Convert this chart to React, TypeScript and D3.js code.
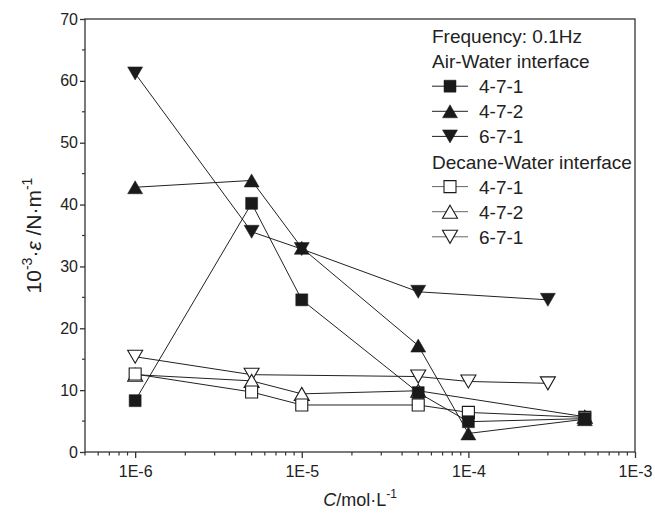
import React, { useRef, useEffect } from 'react';
import * as d3 from 'd3';

// concentrations (mol/L)
const concAir = [1e-6, 5e-6, 1e-5, 5e-5, 1e-4, 5e-4];
const conc671 = [1e-6, 5e-6, 1e-5, 5e-5, 3e-4];
const concDecane472 = [1e-6, 5e-6, 1e-5, 5e-5, 5e-4];
const concDecane671 = [1e-6, 5e-6, 5e-5, 1e-4, 3e-4];

// dilational modulus values
const air471 = [8.3, 40.2, 24.6, 9.6, 4.9, 5.4];
const air472 = [42.8, 43.9, 33.0, 17.2, 3.0, 5.3];
const air671 = [61.2, 35.6, 32.8, 25.9, 24.6];
const dec471 = [12.6, 9.7, 7.6, 7.6, 6.4, 5.6];
const dec472 = [12.5, 11.5, 9.4, 9.9, 5.7];
const dec671 = [15.4, 12.5, 12.2, 11.4, 11.1];

const xTicks = [1e-6, 1e-5, 1e-4, 1e-3];
const xTickLabels = ['1E-6', '1E-5', '1E-4', '1E-3'];
const yTicks = [0, 10, 20, 30, 40, 50, 60, 70];

const legendRows = [
  { label: 'Frequency: 0.1Hz' },
  { label: 'Air-Water interface' },
  { label: '4-7-1', shape: 'square', filled: true },
  { label: '4-7-2', shape: 'up', filled: true },
  { label: '6-7-1', shape: 'down', filled: true },
  { label: 'Decane-Water interface' },
  { label: '4-7-1', shape: 'square', filled: false },
  { label: '4-7-2', shape: 'up', filled: false },
  { label: '6-7-1', shape: 'down', filled: false },
];

const series = [
  { x: concDecane671, y: dec671, shape: 'down', filled: false },
  { x: concDecane472, y: dec472, shape: 'up', filled: false },
  { x: concAir, y: dec471, shape: 'square', filled: false },
  { x: concAir, y: air471, shape: 'square', filled: true },
  { x: concAir, y: air472, shape: 'up', filled: true },
  { x: conc671, y: air671, shape: 'down', filled: true },
];

const W = 655, H = 518;
const margin = { left: 85, right: 20, top: 19, bottom: 66 };
const font = 'Liberation Sans, Arial, sans-serif';

function markerPath(shape: string, cx: number, cy: number) {
  if (shape === 'square') {
    const s = 6;
    return `M${cx - s},${cy - s}H${cx + s}V${cy + s}H${cx - s}Z`;
  }
  const hw = 7.5, hh = 6.5;
  if (shape === 'up') return `M${cx},${cy - hh}L${cx + hw},${cy + hh}L${cx - hw},${cy + hh}Z`;
  return `M${cx - hw},${cy - hh}L${cx + hw},${cy - hh}L${cx},${cy + hh}Z`;
}

export default function App() {
  const svgRef = useRef<SVGSVGElement>(null);

  useEffect(() => {
    const svg = d3.select(svgRef.current);
    svg.selectAll('*').remove();

    const x = d3.scaleLog().domain([5e-7, 1e-3]).range([margin.left, W - margin.right]);
    const y = d3.scaleLinear().domain([0, 70]).range([H - margin.bottom, margin.top]);
    const x0 = margin.left, x1 = W - margin.right, y0 = H - margin.bottom, y1 = margin.top;

    // series lines + markers
    const lineGen = d3.line<[number, number]>().x(d => x(d[0])).y(d => y(d[1]));
    series.forEach(s => {
      const pts = s.x.map((c, i) => [c, s.y[i]] as [number, number]);
      svg.append('path')
        .attr('d', lineGen(pts))
        .attr('fill', 'none')
        .attr('stroke', '#222')
        .attr('stroke-width', 1);
      svg.selectAll(null)
        .data(pts)
        .join('path')
        .attr('d', d => markerPath(s.shape, x(d[0]), y(d[1])))
        .attr('fill', s.filled ? '#1a1a1a' : '#fff')
        .attr('stroke', '#1a1a1a')
        .attr('stroke-width', s.filled ? 0.5 : 1.1);
    });

    // frame
    svg.append('rect')
      .attr('x', x0).attr('y', y1)
      .attr('width', x1 - x0).attr('height', y0 - y1)
      .attr('fill', 'none').attr('stroke', '#333').attr('stroke-width', 1.3);

    // x axis
    const xAxis = d3.axisBottom(x)
      .tickValues(xTicks)
      .tickFormat((d, i) => xTickLabels[i])
      .tickSize(6).tickPadding(8);
    const gx = svg.append('g').attr('transform', `translate(0,${y0})`).call(xAxis);
    gx.select('.domain').remove();
    gx.selectAll('line').attr('stroke', '#333').attr('stroke-width', 1.3);
    gx.selectAll('text').attr('font-family', font).attr('font-size', 16).attr('fill', '#222');

    const minorX: number[] = [];
    [-7, -6, -5, -4].forEach(e => {
      for (let k = 2; k <= 9; k++) {
        const v = k * Math.pow(10, e);
        if (v >= 5e-7 && v < 1e-3) minorX.push(v);
      }
    });
    svg.append('g').selectAll('line').data(minorX).join('line')
      .attr('x1', d => x(d)).attr('x2', d => x(d))
      .attr('y1', y0).attr('y2', y0 + 3.5)
      .attr('stroke', '#333').attr('stroke-width', 1.2);

    // y axis
    const yAxis = d3.axisLeft(y).tickValues(yTicks).tickSize(5).tickPadding(2);
    const gy = svg.append('g').attr('transform', `translate(${x0},0)`).call(yAxis);
    gy.select('.domain').remove();
    gy.selectAll('line').attr('stroke', '#333').attr('stroke-width', 1.3);
    gy.selectAll('text').attr('font-family', font).attr('font-size', 16).attr('fill', '#222');

    const minorY = d3.range(5, 70, 10);
    svg.append('g').selectAll('line').data(minorY).join('line')
      .attr('x1', x0 - 3).attr('x2', x0)
      .attr('y1', d => y(d)).attr('y2', d => y(d))
      .attr('stroke', '#333').attr('stroke-width', 1.2);

    // axis titles
    const xt = svg.append('text')
      .attr('x', (x0 + x1) / 2).attr('y', 506)
      .attr('text-anchor', 'middle')
      .attr('font-family', font).attr('font-size', 18).attr('fill', '#222');
    xt.append('tspan').attr('font-style', 'italic').text('C');
    xt.append('tspan').text('/mol·L');
    xt.append('tspan').attr('font-size', 12).attr('dy', -8).text('-1');

    const yt = svg.append('text')
      .attr('transform', `translate(41,${(y0 + y1) / 2}) rotate(-90)`)
      .attr('text-anchor', 'middle')
      .attr('font-family', font).attr('font-size', 21).attr('fill', '#222');
    yt.append('tspan').text('10');
    yt.append('tspan').attr('font-size', 14).attr('dy', -9).text('-3');
    yt.append('tspan').attr('dy', 9).text('·');
    yt.append('tspan').attr('font-style', 'italic').text('ε');
    yt.append('tspan').text(' /N·m');
    yt.append('tspan').attr('font-size', 14).attr('dy', -9).text('-1');

    // legend
    const lg = svg.append('g');
    legendRows.forEach((r, i) => {
      const cy = 36 + i * 25.1;
      if (!r.shape) {
        lg.append('text').attr('x', 432).attr('y', cy + 7)
          .attr('font-family', font).attr('font-size', 19).attr('fill', '#222')
          .text(r.label);
        return;
      }
      lg.append('line').attr('x1', 432).attr('x2', 468).attr('y1', cy).attr('y2', cy)
        .attr('stroke', r.filled ? '#222' : '#666').attr('stroke-width', 1);
      lg.append('path').attr('d', markerPath(r.shape, 450, cy))
        .attr('fill', r.filled ? '#1a1a1a' : '#fff')
        .attr('stroke', '#1a1a1a').attr('stroke-width', r.filled ? 0.5 : 1.1);
      lg.append('text').attr('x', 479).attr('y', cy + 7)
        .attr('font-family', font).attr('font-size', 19).attr('fill', '#222')
        .text(r.label);
    });
  }, []);

  return (
    <svg ref={svgRef} width={W} height={H}
      style={{ position: 'absolute', left: 0, top: 0, background: '#fff' }} />
  );
}
